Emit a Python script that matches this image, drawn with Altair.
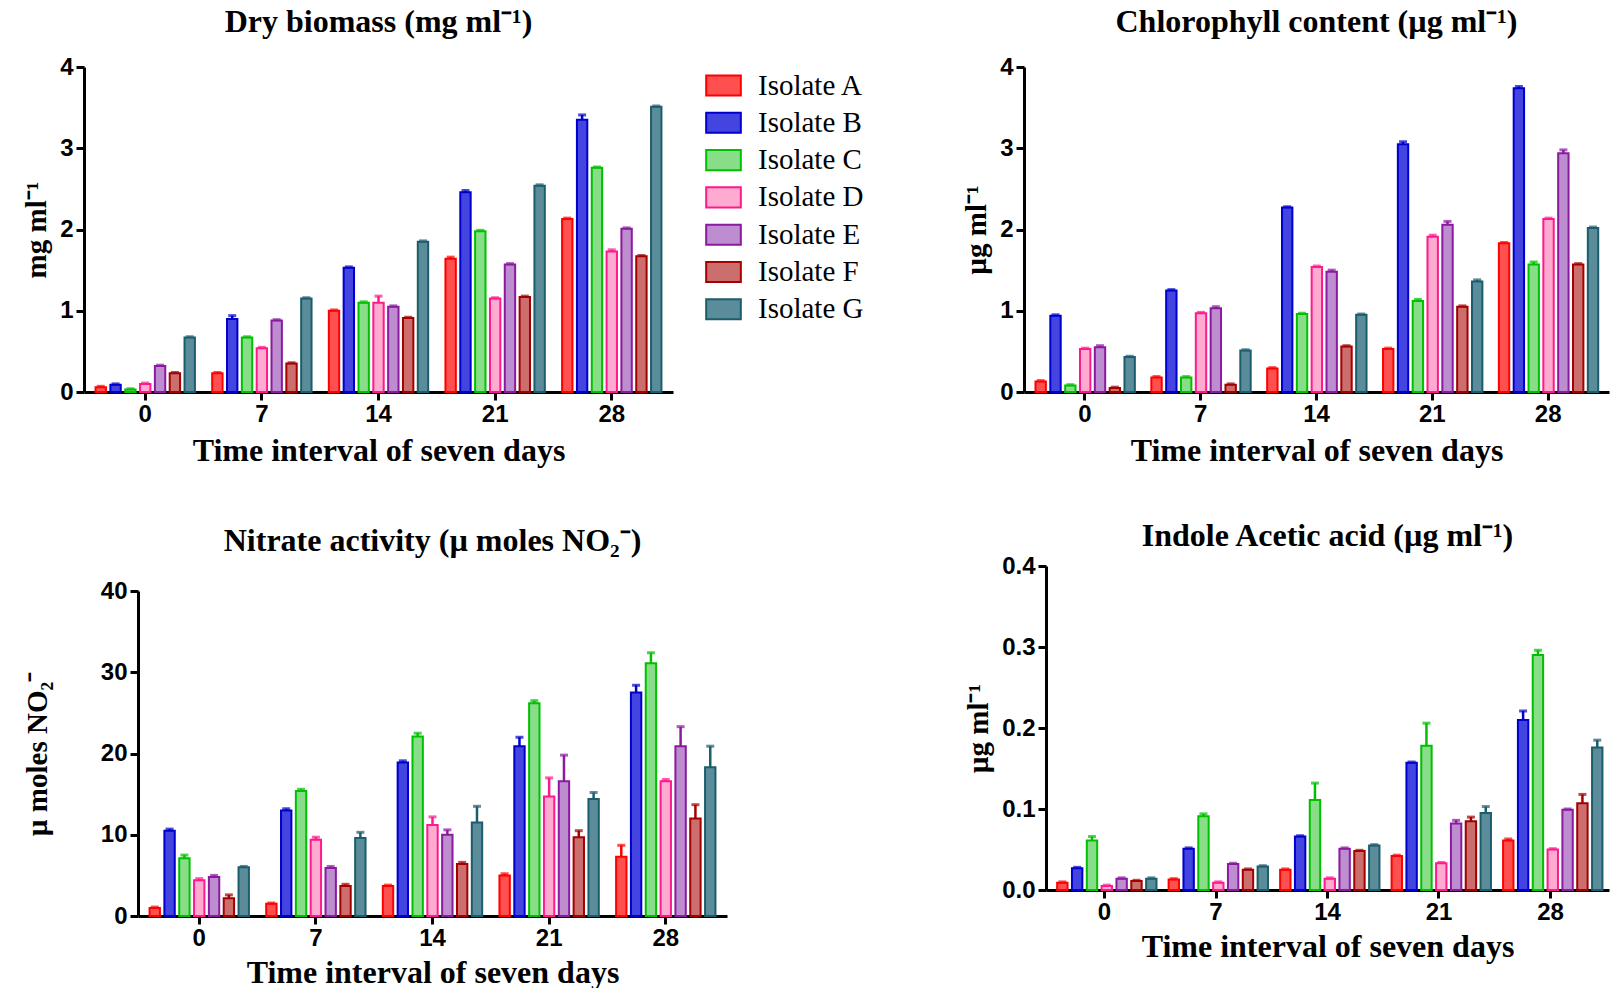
import altair as alt
import pandas as pd

days = [0, 7, 14, 21, 28]
isolates = ["Isolate A", "Isolate B", "Isolate C", "Isolate D", "Isolate E", "Isolate F", "Isolate G"]
line_colors = ["#ff0000", "#0000cc", "#00c000", "#ff1a8c", "#8a1a9e", "#a30000", "#1c5d6d"]
fill_colors = ["#ff5050", "#4444e0", "#88dd88", "#ffaad0", "#bd8dd0", "#cc6e6e", "#5a8d99"]

# rows = day 0,7,14,21,28 ; columns = Isolate A..G
biomass_vals = [
    [0.06, 0.09, 0.03, 0.10, 0.32, 0.23, 0.67],
    [0.23, 0.90, 0.67, 0.54, 0.88, 0.35, 1.15],
    [1.00, 1.53, 1.10, 1.10, 1.05, 0.91, 1.85],
    [1.64, 2.46, 1.98, 1.15, 1.57, 1.17, 2.54],
    [2.13, 3.35, 2.76, 1.73, 2.01, 1.67, 3.51],
]
biomass_err = [
    [0.01, 0.01, 0.01, 0.01, 0.01, 0.01, 0.01],
    [0.01, 0.04, 0.01, 0.01, 0.01, 0.01, 0.01],
    [0.01, 0.01, 0.01, 0.08, 0.01, 0.01, 0.01],
    [0.02, 0.02, 0.01, 0.01, 0.01, 0.01, 0.01],
    [0.01, 0.06, 0.01, 0.02, 0.01, 0.01, 0.01],
]
chloro_vals = [
    [0.13, 0.94, 0.08, 0.53, 0.55, 0.05, 0.43],
    [0.18, 1.25, 0.18, 0.97, 1.03, 0.09, 0.51],
    [0.29, 2.27, 0.96, 1.54, 1.48, 0.56, 0.95],
    [0.53, 3.05, 1.12, 1.91, 2.06, 1.05, 1.36],
    [1.83, 3.74, 1.57, 2.13, 2.94, 1.57, 2.02],
]
chloro_err = [
    [0.01, 0.01, 0.01, 0.01, 0.02, 0.01, 0.01],
    [0.01, 0.01, 0.01, 0.01, 0.02, 0.01, 0.01],
    [0.01, 0.01, 0.01, 0.01, 0.02, 0.01, 0.01],
    [0.01, 0.03, 0.02, 0.02, 0.04, 0.01, 0.02],
    [0.01, 0.02, 0.03, 0.01, 0.04, 0.01, 0.01],
]
nitrate_vals = [
    [1.0, 10.5, 7.1, 4.4, 4.8, 2.2, 6.0],
    [1.5, 13.0, 15.4, 9.4, 5.9, 3.7, 9.6],
    [3.7, 18.9, 22.1, 11.2, 10.0, 6.4, 11.5],
    [5.0, 20.9, 26.2, 14.7, 16.6, 9.7, 14.4],
    [7.3, 27.5, 31.1, 16.6, 20.9, 12.0, 18.3],
]
nitrate_err = [
    [0.1, 0.2, 0.4, 0.2, 0.2, 0.4, 0.1],
    [0.1, 0.2, 0.2, 0.3, 0.2, 0.2, 0.7],
    [0.1, 0.2, 0.4, 1.0, 0.6, 0.2, 2.0],
    [0.2, 1.1, 0.3, 2.3, 3.2, 0.8, 0.8],
    [1.4, 0.9, 1.3, 0.2, 2.4, 1.7, 2.6],
]
iaa_vals = [
    [0.009, 0.027, 0.061, 0.005, 0.014, 0.011, 0.014],
    [0.013, 0.051, 0.091, 0.009, 0.032, 0.025, 0.029],
    [0.025, 0.066, 0.111, 0.014, 0.051, 0.048, 0.055],
    [0.042, 0.157, 0.178, 0.033, 0.082, 0.085, 0.095],
    [0.061, 0.210, 0.290, 0.050, 0.099, 0.107, 0.176],
]
iaa_err = [
    [0.001, 0.001, 0.005, 0.001, 0.001, 0.001, 0.001],
    [0.001, 0.001, 0.003, 0.001, 0.001, 0.001, 0.001],
    [0.001, 0.001, 0.021, 0.001, 0.001, 0.001, 0.001],
    [0.001, 0.001, 0.028, 0.001, 0.004, 0.005, 0.008],
    [0.002, 0.011, 0.006, 0.001, 0.001, 0.011, 0.009],
]

SERIF = "Liberation Serif"
SANS = "Liberation Sans"


def panel(title, ytitle, vals, errs, ymax, ystep, fmt, width, height,
          yrange=None, xshift=0, title_offset=20, ytitle_pad=8, xtitle_pad=9,
          legend=False):
    rows = []
    for di, d in enumerate(days):
        for ii, iso in enumerate(isolates):
            v = vals[di][ii]
            e = errs[di][ii]
            rows.append({"day": d, "isolate": iso, "value": v, "hi": v + e})
    df = pd.DataFrame(rows)

    ticks = [round(i * ystep, 6) for i in range(int(round(ymax / ystep)) + 1)]
    if yrange is not None:
        yscale = alt.Scale(domain=[0, ymax], nice=False, zero=True, range=yrange)
    else:
        yscale = alt.Scale(domain=[0, ymax], nice=False, zero=True)
    if xshift:
        xscale = alt.Scale(paddingInner=0.11, paddingOuter=0.08, range=[xshift, width])
        yaxis = alt.Axis(title=ytitle, values=ticks, format=fmt, titlePadding=ytitle_pad,
                         labelPadding=3, offset=-xshift, titleFontSize=29)
    else:
        xscale = alt.Scale(paddingInner=0.11, paddingOuter=0.08)
        yaxis = alt.Axis(title=ytitle, values=ticks, format=fmt, titlePadding=ytitle_pad,
                         labelPadding=3, titleFontSize=29)

    if legend:
        leg = alt.Legend(
            title=None, orient="none", legendX=621, legendY=0,
            symbolType="M-1,-0.58H1V0.58H-1Z", symbolSize=1200,
            symbolStrokeWidth=2, labelFont=SERIF, labelFontSize=29,
            labelColor="black", labelOffset=16, rowPadding=3.3, padding=0,
            labelFontWeight="normal",
        )
        leg2 = leg
    else:
        leg = None
        leg2 = None

    base = alt.Chart(df).encode(
        x=alt.X("day:O", sort=days, scale=xscale,
                axis=alt.Axis(title="Time interval of seven days", labelAngle=0,
                              titlePadding=xtitle_pad, labelPadding=2, titleFontSize=32)),
        xOffset=alt.XOffset("isolate:N", sort=isolates,
                            scale=alt.Scale(paddingInner=0.3, paddingOuter=0.15)),
    )
    bars = base.mark_bar(strokeWidth=2).encode(
        y=alt.Y("value:Q", scale=yscale, axis=yaxis),
        fill=alt.Fill("isolate:N", sort=isolates,
                      scale=alt.Scale(domain=isolates, range=fill_colors), legend=leg),
        stroke=alt.Stroke("isolate:N", sort=isolates,
                          scale=alt.Scale(domain=isolates, range=line_colors), legend=leg2),
    )
    rules = base.mark_rule(strokeWidth=2.5).encode(
        y="value:Q", y2="hi:Q",
        color=alt.Color("isolate:N", sort=isolates,
                        scale=alt.Scale(domain=isolates, range=line_colors), legend=None),
    )
    caps = base.mark_tick(size=8, thickness=3).encode(
        y="hi:Q",
        color=alt.Color("isolate:N", sort=isolates,
                        scale=alt.Scale(domain=isolates, range=line_colors), legend=None),
    )
    return alt.layer(bars, rules, caps).properties(
        width=width, height=height,
        title=alt.TitleParams(title, font=SERIF, fontSize=32, fontWeight="bold",
                              color="black", anchor="middle", offset=title_offset,
                              baseline="alphabetic", dx=xshift / 2),
    )


p1 = panel("Dry biomass (mg ml\u207b\u00b9)", "mg ml\u207b\u00b9", biomass_vals, biomass_err,
           4, 1, "d", 589, 325, title_offset=-9, ytitle_pad=8, legend=True)
p2 = panel("Chlorophyll content (\u00b5g ml\u207b\u00b9)", "\u00b5g ml\u207b\u00b9", chloro_vals, chloro_err,
           4, 1, "d", 585, 325, title_offset=-9, ytitle_pad=8)
p3 = panel("Nitrate activity (\u00b5 moles NO\u2082\u207b)", "\u00b5 moles NO\u2082\u207b", nitrate_vals, nitrate_err,
           40, 10, "d", 643, 350, yrange=[350, 25], xshift=54, title_offset=-17, ytitle_pad=48,
           xtitle_pad=7)
p4 = panel("Indole Acetic acid (\u00b5g ml\u207b\u00b9)", "\u00b5g ml\u207b\u00b9", iaa_vals, iaa_err,
           0.4, 0.1, ".1f", 563, 324, title_offset=-24, ytitle_pad=8, xtitle_pad=7)

row1 = alt.hconcat(p1, p2, spacing=289)
row2 = alt.hconcat(p3, p4, spacing=237)

chart = alt.concat(row1, row2, columns=1, spacing=54, align="none").properties(
    padding={"left": 22, "top": 6, "right": 3, "bottom": 0}
).configure_axis(
    domainColor="black", domainWidth=3, tickColor="black", tickWidth=3, tickSize=8,
    labelFont=SANS, labelFontWeight="bold", labelFontSize=24, labelColor="black",
    titleFont=SERIF, titleFontWeight="bold", titleFontSize=31, titleColor="black",
    grid=False,
).configure_view(stroke=None)

chart.save("out.html", embed_options={"renderer": "svg", "actions": False})
